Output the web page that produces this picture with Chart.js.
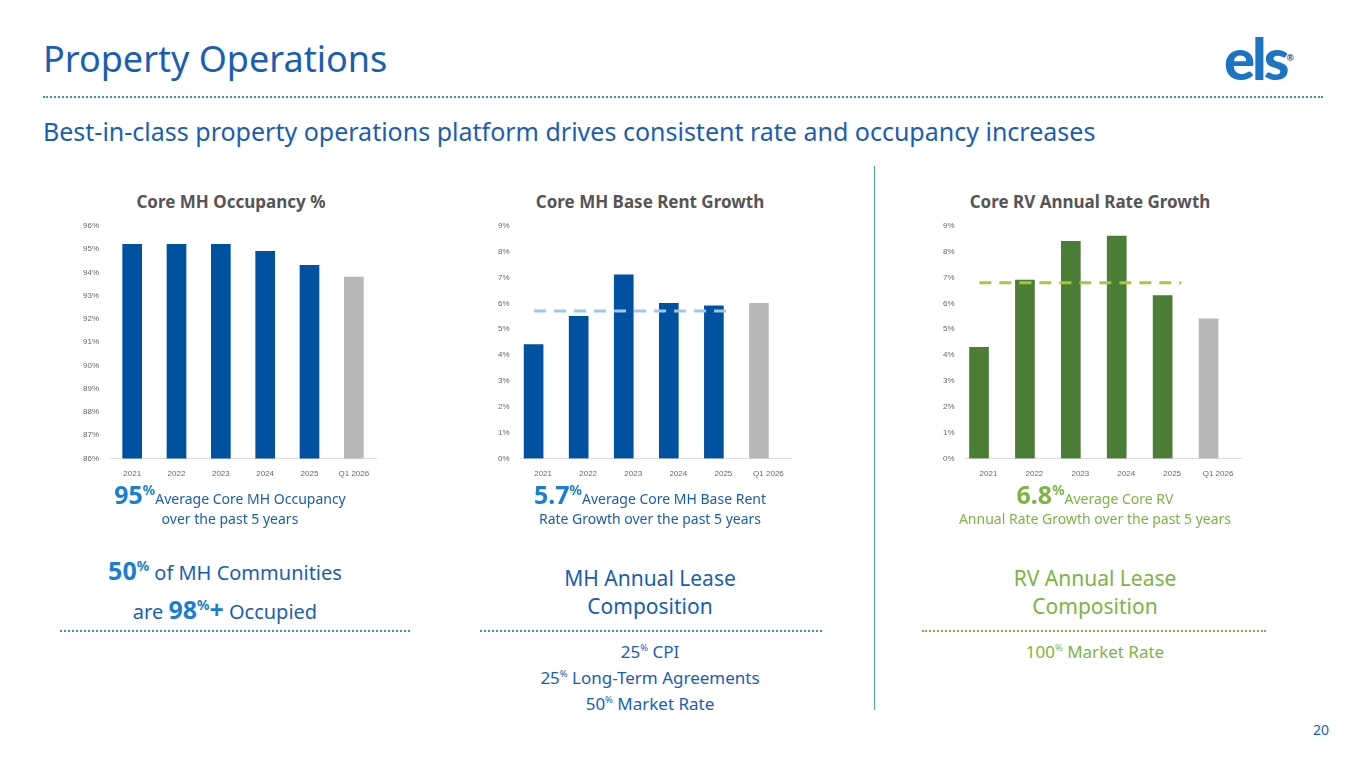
<!DOCTYPE html>
<html><head><meta charset="utf-8">
<script src="https://cdn.jsdelivr.net/npm/chart.js@4"></script>
<style>
body{margin:0;width:1365px;height:768px;background:#fff;font-family:"Noto Sans",sans-serif;position:relative;overflow:hidden}
.a{position:absolute}
.blue{color:#1a5eb3}.green{color:#7db443}
.dots{position:absolute;border-top:2px dotted #3a8fd0;height:0}
.ct{position:absolute;font-size:17px;font-weight:700;color:#555;text-align:center;width:320px}
.c{text-align:center}
sup{font-size:55%;line-height:0}
</style></head><body>
<div class="a blue" style="left:43px;top:34px;font-size:36px">Property Operations</div>
<div class="a" style="left:1224px;top:28px;font-size:58px;font-weight:900;color:#1b74c4;letter-spacing:-3px;line-height:60px;font-family:Lato">els<span style="font-size:9px;vertical-align:top;letter-spacing:0">®</span></div>
<div class="dots" style="left:43px;top:96px;width:1280px"></div>
<div class="a blue" style="left:43px;top:114px;font-size:25px">Best-in-class property operations platform drives consistent rate and occupancy increases</div>
<div class="a" style="left:874px;top:166px;width:1px;height:544px;background:#4aa3df"></div>

<div class="ct" style="left:71px;top:190px">Core MH Occupancy %</div>
<div class="ct" style="left:490px;top:190px">Core MH Base Rent Growth</div>
<div class="ct" style="left:930px;top:190px">Core RV Annual Rate Growth</div>

<div class="a" style="left:80px;top:218px;width:300px;height:264px"><canvas id="c1"></canvas></div>
<div class="a" style="left:495px;top:218px;width:300px;height:264px"><canvas id="c2"></canvas></div>
<div class="a" style="left:940px;top:218px;width:305px;height:264px"><canvas id="c3"></canvas></div>

<div class="a c" style="left:60px;top:484px;width:340px;font-size:14px;color:#1a5eb3;line-height:20px"><span style="font-size:25px;font-weight:700;color:#1a7fd4">95<sup>%</sup></span>Average Core MH Occupancy<br>over the past 5 years</div>
<div class="a c" style="left:480px;top:484px;width:340px;font-size:14px;color:#1a5eb3;line-height:20px"><span style="font-size:25px;font-weight:700;color:#1a7fd4">5.7<sup>%</sup></span>Average Core MH Base Rent<br>Rate Growth over the past 5 years</div>
<div class="a c" style="left:925px;top:484px;width:340px;font-size:14px;color:#7db443;line-height:20px"><span style="font-size:25px;font-weight:700">6.8<sup>%</sup></span>Average Core RV<br>Annual Rate Growth over the past 5 years</div>

<div class="a c blue" style="left:55px;top:552px;width:340px;font-size:20px;line-height:36px"><b style="font-size:25px;color:#1a7fd4">50<sup>%</sup></b> of MH Communities<br>are <b style="font-size:25px;color:#1a7fd4">98<sup>%</sup>+</b> Occupied</div>
<div class="a c blue" style="left:480px;top:564px;width:340px;font-size:21px;line-height:28px">MH Annual Lease<br>Composition</div>
<div class="a c green" style="left:925px;top:564px;width:340px;font-size:21px;line-height:28px">RV Annual Lease<br>Composition</div>
<div class="dots" style="left:60px;top:630px;width:350px"></div>
<div class="dots" style="left:480px;top:630px;width:342px"></div>
<div class="dots" style="left:922px;top:630px;width:344px;border-color:#7db443"></div>
<div class="a c blue" style="left:480px;top:639px;width:340px;font-size:17px;line-height:26px">25<sup>%</sup> CPI<br>25<sup>%</sup> Long-Term Agreements<br>50<sup>%</sup> Market Rate</div>
<div class="a c green" style="left:925px;top:639px;width:340px;font-size:17px;line-height:26px">100<sup>%</sup> Market Rate</div>
<div class="a blue" style="left:1313px;top:720px;font-size:14px">20</div>

<script>
const categories=["2021","2022","2023","2024","2025","Q1 2026"];
const occupancy=[95.2,95.2,95.2,94.9,94.3,93.8];
const mhRent=[4.4,5.5,7.1,6.0,5.9,6.0];
const rvRate=[4.3,6.9,8.4,8.6,6.3,5.4];
const mhAvg=5.7, rvAvg=6.8;
const avgSpan=[-0.2,4.2];
const blue="#0052a0", gray="#b5b7b9", green="#4a7d35";
const colors=(c)=>categories.map((_,i)=>i===5?gray:c);
function mk(id,data,col,min,max,avg,avgCol){
  const ds=[{type:'bar',data:data,backgroundColor:colors(col),barThickness:19,order:2}];
  if(avg!=null) ds.push({type:'line',xAxisID:'x2',data:avgSpan.map(x=>({x:x,y:avg})),borderColor:avgCol,borderWidth:3,borderDash:[12,8],pointRadius:0,order:1});
  new Chart(document.getElementById(id),{data:{labels:categories,datasets:ds},
   options:{responsive:true,maintainAspectRatio:false,animation:false,
    plugins:{legend:{display:false},tooltip:{enabled:false}},
    layout:{padding:{right:4}},
    scales:{
     x:{grid:{display:false},border:{color:'#ddd'},ticks:{color:'#666',font:{size:8},maxRotation:0}},
     x2:{type:'linear',display:false,min:-0.5,max:5.5},
     y:{min:min,max:max,grid:{display:false},border:{display:false},ticks:{stepSize:1,color:'#666',font:{size:8},callback:v=>v+'%'}}
    }}});
}
mk('c1',occupancy,blue,86,96,null);
mk('c2',mhRent,blue,0,9,mhAvg,'#9ec7ea');
mk('c3',rvRate,green,0,9,rvAvg,'#a5c73c');
</script>
</body></html>
